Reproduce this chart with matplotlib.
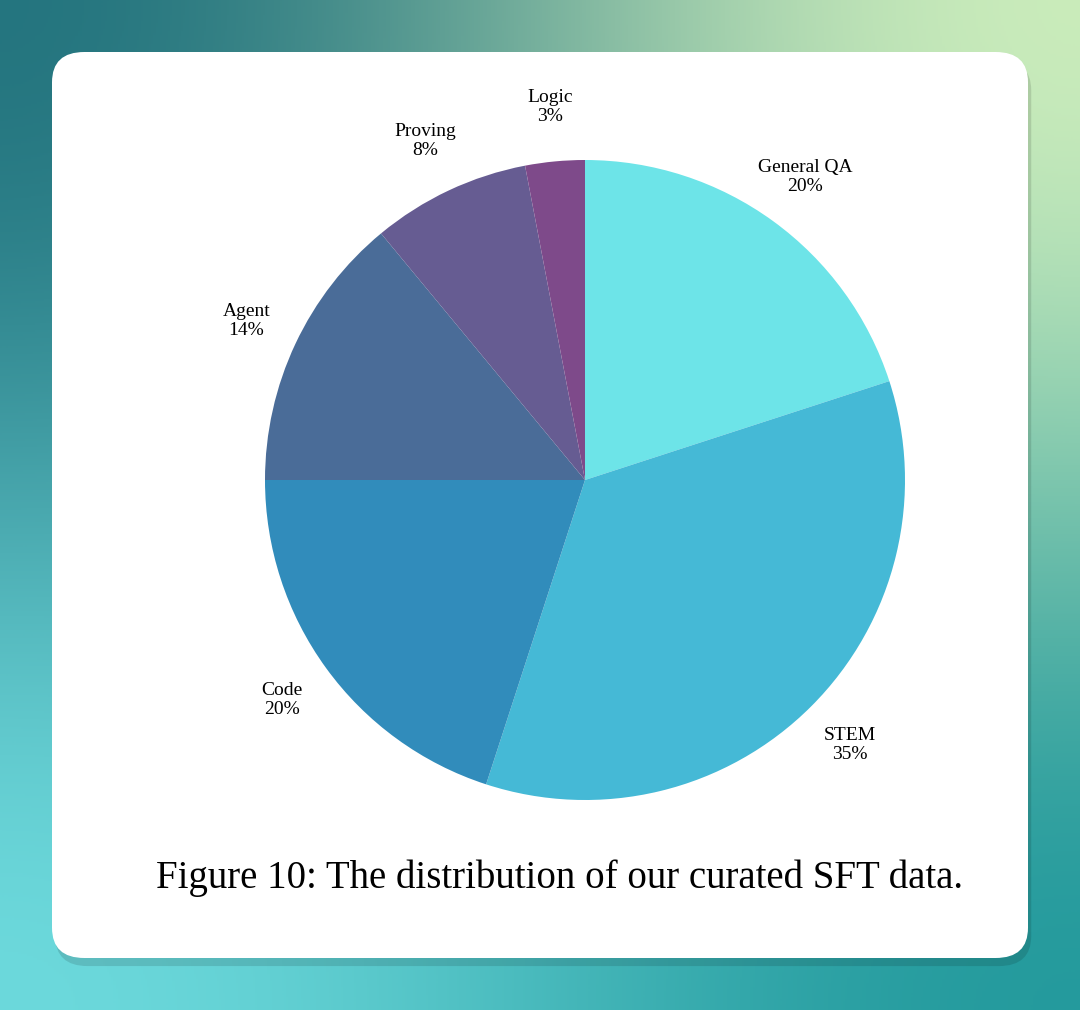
import numpy as np
import matplotlib.pyplot as plt
from matplotlib.patches import FancyBboxPatch

# data
labels = ["General QA", "STEM", "Code", "Agent", "Proving", "Logic"]
shares = [20, 35, 20, 14, 8, 3]
colors = ["#6de4e8", "#45b9d6", "#318cbb", "#4a6c98", "#665c92", "#7e4a8a"]
caption = "Figure 10: The distribution of our curated SFT data."

W, H = 1080, 1010
fig = plt.figure(figsize=(W / 100, H / 100), dpi=100)

# gradient background
bg = fig.add_axes([0, 0, 1, 1])
corners = np.array([[[0.10, 0.42, 0.47], [0.85, 0.96, 0.75]],
                    [[0.45, 0.88, 0.89], [0.10, 0.58, 0.60]]])
bg.imshow(corners, interpolation="bicubic", extent=[0, 1, 0, 1], aspect="auto")
bg.set_xlim(0, 1); bg.set_ylim(0, 1); bg.axis("off")

# shadow + white card
bg.add_patch(FancyBboxPatch((52 / W + 0.003, 1 - 958 / H - 0.008), 976 / W, 906 / H,
                            boxstyle="round,pad=0,rounding_size=0.03",
                            fc="black", alpha=0.12, ec="none", zorder=2))
bg.add_patch(FancyBboxPatch((52 / W, 1 - 958 / H), 976 / W, 906 / H,
                            boxstyle="round,pad=0,rounding_size=0.03",
                            fc="white", ec="none", zorder=3))

# pie
cx, cy, r = 585, 480, 320
ax = fig.add_axes([(cx - r) / W, 1 - (cy + r) / H, 2 * r / W, 2 * r / H])
ax.pie(shares, colors=colors, startangle=90, counterclock=False,
       wedgeprops=dict(linewidth=0))
ax.set_xlim(-1, 1); ax.set_ylim(-1, 1)
ax.set_aspect("equal"); ax.axis("off")

# labels
start = 90.0
for name, s in zip(labels, shares):
    mid = np.deg2rad(start - s * 3.6 / 2)
    start -= s * 3.6
    ax.text(1.17 * np.cos(mid), 1.17 * np.sin(mid), f"{name}\n{s}%",
            ha="center", va="center", fontsize=14, family="Liberation Serif",
            linespacing=1.15, clip_on=False)

fig.text(560 / W, 1 - 878 / H, caption, ha="center", va="center",
         fontsize=28, family="Liberation Serif")

fig.savefig("out.png", dpi=100)
